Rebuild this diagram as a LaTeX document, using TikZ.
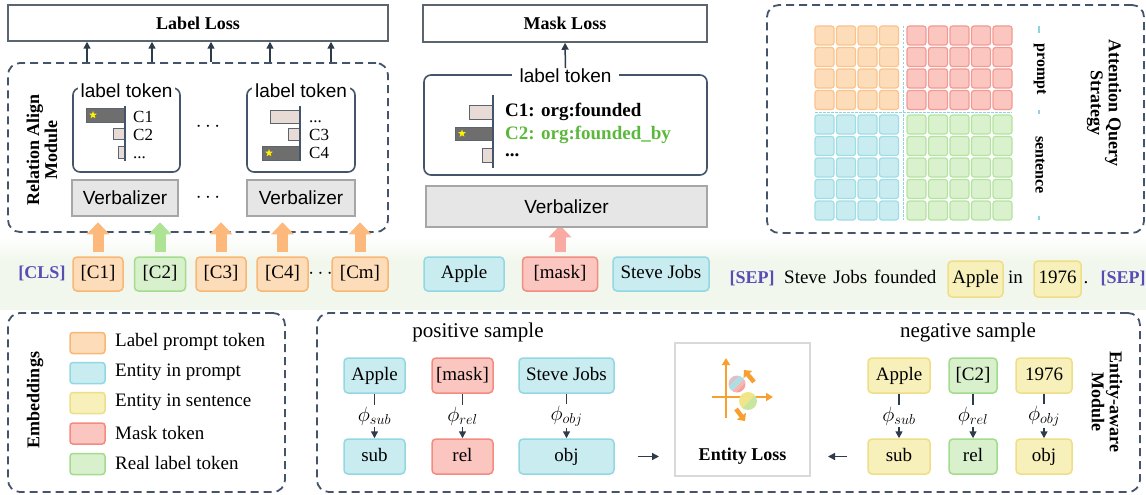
\documentclass[tikz,border=0pt]{standalone}
\usepackage{fontspec}
\setmainfont{Liberation Serif}
\setsansfont{Liberation Sans}
\usetikzlibrary{arrows.meta,shapes.geometric}
\newcommand\setfs[1]{\fontsize{#1}{#1}\selectfont}
\definecolor{dashc}{HTML}{44546A}
\definecolor{lossc}{HTML}{5A6570}
\definecolor{arc}{HTML}{2E3B4A}
\definecolor{orf}{HTML}{FDDCB9}
\definecolor{ord}{HTML}{F8B775}
\definecolor{ora}{HTML}{FDB97C}
\definecolor{grf}{HTML}{D9F0CD}
\definecolor{grd}{HTML}{A3DC8C}
\definecolor{gra}{HTML}{AEE396}
\definecolor{cyf}{HTML}{C9ECF0}
\definecolor{cyd}{HTML}{92D8E2}
\definecolor{yef}{HTML}{F7F0BA}
\definecolor{yed}{HTML}{EEDF86}
\definecolor{redf}{HTML}{FCC6C0}
\definecolor{redd}{HTML}{F28B80}
\definecolor{rea}{HTML}{F9ABA3}
\definecolor{purp}{HTML}{5A4CB5}
\definecolor{vgray}{HTML}{E6E6E6}
\definecolor{vbord}{HTML}{A6A6A6}
\definecolor{barl}{HTML}{E8DAD4}
\definecolor{bard}{HTML}{6E6E6E}
\definecolor{barb}{HTML}{5A6570}
\definecolor{gtext}{HTML}{5BB83C}
\definecolor{iconor}{HTML}{F7A030}
\definecolor{band}{HTML}{F1F7EC}
\definecolor{elgray}{HTML}{D9D9D9}
\definecolor{orc}{HTML}{FBC28A}
\definecolor{rec}{HTML}{F29A92}
\definecolor{cyc}{HTML}{9EDDE5}
\definecolor{grc}{HTML}{B3E39F}
\definecolor{gcf}{HTML}{D9F1CD}
\definecolor{tick}{HTML}{8ED4DC}
\begin{document}
\begin{tikzpicture}[x=1pt,y=-1pt,
 dbox/.style={draw=dashc,line width=1.8pt,dash pattern=on 8pt off 5pt,rounded corners=12pt,inner sep=0pt},
 lossbox/.style={draw=lossc,line width=1.5pt,inner sep=0pt,font=\bfseries\setfs{18}},
 ltbox/.style={draw=dashc,line width=1.6pt,rounded corners=7pt,inner sep=0pt},
 ttl/.style={fill=white,inner xsep=3pt,inner ysep=1pt,font=\sffamily\setfs{19}},
 verb/.style={draw=vbord,fill=vgray,line width=1.2pt,inner sep=0pt,font=\sffamily\setfs{19}},
 tok/.style={rounded corners=4pt,line width=1.5pt,inner sep=0pt,minimum height=34pt,text height=13pt,text depth=4pt,font=\setfs{19}},
 otok/.style={tok,draw=ord,fill=orf},
 gtok/.style={tok,draw=grd,fill=grf},
 ctok/.style={tok,draw=cyd,fill=cyf},
 ytok/.style={tok,draw=yed,fill=yef},
 rtok/.style={tok,draw=redd,fill=redf},
 plain/.style={inner sep=0pt,text height=13pt,text depth=4pt,font=\setfs{19}},
 sepl/.style={plain,font=\bfseries\setfs{18},text=purp},
 sarr/.style={draw=arc,line width=1.5pt,-{Triangle[length=7pt,width=7pt]}},
 barr/.style={line width=11pt,-{Triangle[length=12pt,width=22pt]}},
 lbar/.style={draw=barb,fill=barl,line width=1pt},
 dbar/.style={draw=barb,fill=bard,line width=1pt},
 ystar/.style={star,star points=5,star point ratio=2.4,fill=yellow,inner sep=0pt,minimum size=8pt},
 cell/.style={rounded corners=2.5pt,line width=1.2pt},
 sw/.style={rounded corners=3pt,line width=1.5pt,minimum width=35pt,minimum height=21pt,inner sep=0pt},
 leg/.style={anchor=west,inner sep=0pt,font=\setfs{19}},
 mleg/.style={anchor=west,inner sep=0pt,text height=12pt,text depth=2pt,font=\bfseries\setfs{19}},
 vtitle/.style={font=\bfseries\setfs{18},align=center},
 clab/.style={anchor=west,inner sep=0pt,text height=10pt,text depth=0pt,font=\setfs{17}},
 phil/.style={fill=white,inner sep=1.5pt,font=\setfs{22}},
 dots/.style={inner sep=0pt,font=\setfs{20}},
 icar/.style={draw=iconor,line width=2.2pt,-{Triangle[length=7pt,width=8pt]}},
 icbl/.style={draw=iconor,line width=4.5pt,-{Triangle[length=6pt,width=11pt]}},
]
\useasboundingbox (0,0) rectangle (1146,495);
% background band
\shade[top color=white,bottom color=band] (0,236) rectangle (1146,262);
\fill[band] (0,262) rectangle (1146,310);

% ===== Relation align module =====
\node[lossbox,minimum width=380pt,minimum height=36pt] (LL) at (198,23) {Label Loss};
\node[dbox,minimum width=380pt,minimum height=169pt] (RA) at (198,147.5) {};
\foreach \x in {87,152,211,270,331}{
  \draw[sarr] (RA.north -| \x,0) -- (LL.south -| \x,0);
}
\node[vtitle,rotate=90] (RAt) at (42,150) {Relation Align\\Module};

\node[ltbox,minimum width=107pt,minimum height=84pt] (LT1) at (126.5,130) {};
\node[ttl] (LT1t) at ([yshift=-4pt]LT1.north) {label token};
\draw[dbar] (86,108) rectangle (125,122);
\node[ystar] at (93,115) {};
\draw[lbar] (113,128) rectangle (125,139);
\draw[lbar] (118,146) rectangle (125,158);
\draw[draw=dashc,line width=1.6pt] (125,106) -- (125,161);
\node[clab] at (133,117) {C1};
\node[clab] at (133,135) {C2};
\node[clab] at (133,153) {...};

\node[ltbox,minimum width=108pt,minimum height=84pt] (LT2) at (301,130) {};
\node[ttl] (LT2t) at ([yshift=-4pt]LT2.north) {label token};
\draw[lbar] (270,110) rectangle (300,123);
\draw[lbar] (288,128) rectangle (300,140);
\draw[dbar] (262,146) rectangle (300,160);
\node[ystar] at (269,153) {};
\draw[draw=dashc,line width=1.6pt] (300,106) -- (300,161);
\node[clab] at (309,117) {...};
\node[clab] at (309,135) {C3};
\node[clab] at (309,153) {C4};

\node[dots] (dotsA) at (208,127) {$\cdots$};
\node[verb,minimum width=106pt,minimum height=36pt] (V1) at (125,198) {Verbalizer};
\node[verb,minimum width=108pt,minimum height=36pt] (V2) at (301,198) {Verbalizer};
\node[dots] (dotsB) at (208,198) {$\cdots$};

% ===== token row =====
\node[sepl] (CLS) at (42,274) {[CLS]};
\node[otok,minimum width=50pt] (C1) at (98,274) {[C1]};
\node[gtok,minimum width=51pt] (C2) at (160,274) {[C2]};
\node[otok,minimum width=50pt] (C3) at (221,274) {[C3]};
\node[otok,minimum width=51pt] (C4) at (282.5,274) {[C4]};
\node[dots] (dotsC) at (320.5,274) {$\cdots$};
\node[otok,minimum width=56pt] (Cm) at (360,274) {[Cm]};
\node[ctok,minimum width=80pt] (TA) at (464,274) {Apple};
\node[rtok,minimum width=75pt] (TM) at (560,274) {[mask]};
\node[ctok,minimum width=96pt] (TS) at (661,274) {Steve Jobs};
\node[sepl] (SEP1) at (752,279) {[SEP]};
\node[plain,anchor=west] (SENT) at (784,279) {Steve\hspace{7pt}Jobs\hspace{7pt}founded};
\node[ytok,minimum width=55pt,minimum height=36pt] (YA) at (975.5,279) {Apple};
\node[plain] (IN) at (1015.5,279) {in};
\node[ytok,minimum width=47pt,minimum height=36pt] (Y76) at (1057.5,279) {1976};
\node[plain] (DOT) at (1086,279) {.};
\node[sepl] (SEP2) at (1123,279) {[SEP]};

\draw[barr,ora] ([yshift=4pt]C1.north) -- ++(0,-30);
\draw[barr,gra] ([yshift=4pt]C2.north) -- ++(0,-30);
\draw[barr,ora] ([yshift=4pt]C3.north) -- ++(0,-30);
\draw[barr,ora] ([yshift=4pt]C4.north) -- ++(0,-30);
\draw[barr,ora] ([yshift=4pt]Cm.north) -- ++(0,-30);
\draw[barr,rea] ([yshift=4pt]TM.north) -- ++(0,-27);

% ===== mask loss =====
\node[lossbox,minimum width=284pt,minimum height=37pt] (ML) at (565,23.5) {Mask Loss};
\node[ltbox,minimum width=283pt,minimum height=100pt] (MT) at (565.5,125) {};
\node[ttl,inner xsep=8pt] (MTt) at ([yshift=-2pt]MT.north) {label token};
\draw[sarr] (MTt.north) -- (ML.south);
\draw[lbar] (469,105) rectangle (493,119);
\draw[dbar] (455,127) rectangle (493,140);
\node[ystar] at (462,133.5) {};
\draw[lbar] (482,148) rectangle (493,162);
\draw[draw=dashc,line width=1.6pt] (493,95) -- (493,168);
\node[mleg] at (505,112) {C1: org:founded};
\node[mleg,text=gtext] at (505,134) {C2: org:founded\_by};
\node[mleg,text height=3pt,text depth=0pt] at (505,155) {...};
\node[verb,minimum width=281pt,minimum height=41pt] (VM) at (566.5,206.5) {Verbalizer};

% ===== attention query strategy =====
\node[dbox,minimum width=377pt,minimum height=228pt] (AQ) at (955.5,119) {};
\foreach \i in {0,...,3}{\foreach \j in {0,...,3}{
  \draw[cell,draw=orc,fill=orf] ({815+21.5*\i},{26+21.5*\j}) rectangle ++(19,19);}}
\foreach \i in {0,...,4}{\foreach \j in {0,...,3}{
  \draw[cell,draw=rec,fill=redf] ({907+21.5*\i},{26+21.5*\j}) rectangle ++(19,19);}}
\foreach \i in {0,...,3}{\foreach \j in {0,...,4}{
  \draw[cell,draw=cyc,fill=cyf] ({815+21.5*\i},{115+21.5*\j}) rectangle ++(19,19);}}
\foreach \i in {0,...,4}{\foreach \j in {0,...,4}{
  \draw[cell,draw=grc,fill=gcf] ({907+21.5*\i},{115+21.5*\j}) rectangle ++(19,19);}}
\draw[tick,line width=0.8pt,dash pattern=on 2.5pt off 1.5pt] (903,26) -- (903,220);
\draw[tick,line width=0.8pt,dash pattern=on 2.5pt off 1.5pt] (815,112) -- (1012,112);
\draw[tick,line width=2.5pt] (1039,26) -- (1039,33);
\draw[tick,line width=2.5pt] (1039,110) -- (1039,114);
\draw[tick,line width=2.5pt] (1039,216) -- (1039,220);
\node[rotate=-90,font=\bfseries\setfs{16}] (PR) at (1040,69) {prompt};
\node[rotate=-90,font=\bfseries\setfs{16}] (SE) at (1040,165) {sentence};
\node[vtitle,rotate=-90] (AQt) at (1104,103) {Attention Query\\Strategy};

% ===== embeddings legend =====
\node[dbox,minimum width=277pt,minimum height=179pt] (EMB) at (146.5,402.5) {};
\node[vtitle,rotate=90] (EMBt) at (35,400) {Embeddings};
\node[sw,draw=ord,fill=orf] (S1) at (87.5,343) {};
\node[sw,draw=cyd,fill=cyf] (S2) at (87.5,373) {};
\node[sw,draw=yed,fill=yef] (S3) at (87.5,403) {};
\node[sw,draw=redd,fill=redf] (S4) at (87.5,433.5) {};
\node[sw,draw=grd,fill=grf] (S5) at (87.5,464) {};
\node[leg] at (115,342) {Label prompt token};
\node[leg] at (115,372) {Entity in prompt};
\node[leg] at (115,402) {Entity in sentence};
\node[leg] at (115,432.5) {Mask token};
\node[leg] at (115,463) {Real label token};

% ===== entity-aware module =====
\node[dbox,minimum width=823pt,minimum height=179pt] (EA) at (728.5,402.5) {};
\node[plain,font=\setfs{21}] (POS) at (478,333) {positive sample};
\node[plain,font=\setfs{21}] (NEG) at (968,333) {negative sample};
\node[ctok,minimum width=61pt,minimum height=35pt] (PA) at (374.5,375.5) {Apple};
\node[rtok,minimum width=61pt,minimum height=35pt] (PM) at (462.5,375.5) {[mask]};
\node[ctok,minimum width=95pt,minimum height=35pt] (PS) at (566.5,375.5) {Steve Jobs};
\node[ctok,minimum width=61pt,minimum height=35pt] (Psub) at (374.5,456.5) {sub};
\node[rtok,minimum width=61pt,minimum height=35pt] (Prel) at (462.5,456.5) {rel};
\node[ctok,minimum width=95pt,minimum height=35pt] (Pobj) at (566.5,456.5) {obj};
\node[ytok,minimum width=62pt,minimum height=35pt] (NA) at (899,375.5) {Apple};
\node[gtok,minimum width=48pt,minimum height=35pt] (NC) at (973,375.5) {[C2]};
\node[ytok,minimum width=56pt,minimum height=35pt] (N76) at (1044,375.5) {1976};
\node[ytok,minimum width=62pt,minimum height=35pt] (Nsub) at (899,456.5) {sub};
\node[gtok,minimum width=48pt,minimum height=35pt] (Nrel) at (973,456.5) {rel};
\node[ytok,minimum width=56pt,minimum height=35pt] (Nobj) at (1044,456.5) {obj};
\draw[sarr] (PA) -- node[phil] {$\phi_{sub}$} (Psub);
\draw[sarr] (PM) -- node[phil] {$\phi_{rel}$} (Prel);
\draw[sarr] (PS) -- node[phil] {$\phi_{obj}$} (Pobj);
\draw[sarr] (NA) -- node[phil] {$\phi_{sub}$} (Nsub);
\draw[sarr] (NC) -- node[phil] {$\phi_{rel}$} (Nrel);
\draw[sarr] (N76) -- node[phil] {$\phi_{obj}$} (Nobj);

\node[draw=elgray,line width=2pt,minimum width=135pt,minimum height=133pt,inner sep=0pt] (EL) at (742.5,409.5) {};
\node[plain,font=\bfseries\setfs{18}] (ELt) at (742.5,456) {Entity Loss};
\draw[sarr,shorten <=23pt,shorten >=15pt] (Pobj.east) -- (Pobj.east -| EL.west);
\draw[sarr,shorten <=20pt,shorten >=17pt] (Nsub.west) -- (Nsub.west -| EL.east);
\node[vtitle,rotate=-90] (EAt) at (1107,402) {Entity-aware\\Module};

% icon
\draw[icar] (726,418) -- (726,358);
\draw[icar] (712,397) -- (773,397);
\begin{scope}
  \clip (737,384) circle (8.5);
  \begin{scope}[shift={(737,384)},rotate=45]
    \fill[color={rgb,255:red,217;green,195;blue,203}] (-14,-14) rectangle (14,-3.5);
    \fill[color={rgb,255:red,169;green,224;blue,230}] (-14,-3.5) rectangle (14,1.5);
    \fill[color={rgb,255:red,245;green,181;blue,178}] (-14,1.5) rectangle (14,5);
    \fill[color={rgb,255:red,244;green,163;blue,156}] (-14,5) rectangle (14,14);
  \end{scope}
\end{scope}
\begin{scope}
  \clip (748,401) circle (9);
  \begin{scope}[shift={(748,401)},rotate=45]
    \fill[color={rgb,255:red,239;green,230;blue,138}] (-14,-14) rectangle (14,1);
    \fill[color={rgb,255:red,201;green,230;blue,160}] (-14,1) rectangle (14,14);
  \end{scope}
\end{scope}
\draw[icbl] (754,382) -- (744,370);
\draw[icbl] (736,409) -- (745,421);
\end{tikzpicture}
\end{document}
